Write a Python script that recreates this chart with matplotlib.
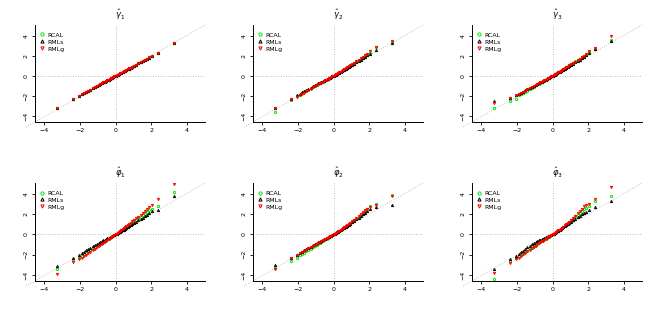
import matplotlib
matplotlib.use('Agg')
import matplotlib.pyplot as plt
from matplotlib.lines import Line2D

# theoretical normal quantiles (x positions)
theo_q = [-3.29, -2.35, -2.06, -1.89, -1.76, -1.65, -1.52, -1.41, -1.28,
          -1.15, -1.04, -0.94, -0.84, -0.76, -0.68, -0.60, -0.53, -0.46, -0.39,
          -0.32, -0.25, -0.19, -0.13, -0.06, 0.00, 0.06, 0.13, 0.19, 0.25, 0.32,
          0.39, 0.46, 0.53, 0.60, 0.68, 0.76, 0.84, 0.94, 1.04, 1.15,
          1.28, 1.41, 1.52, 1.65, 1.76, 1.89, 2.06, 2.35, 3.29]

titles = [r'$\hat{\gamma}_1$', r'$\hat{\gamma}_2$', r'$\hat{\gamma}_3$',
          r'$\hat{\varphi}_1$', r'$\hat{\varphi}_2$', r'$\hat{\varphi}_3$']
methods = ['RCAL', 'RMLs', 'RMLg']

# sample quantiles, one list per panel and method
p1_rcal = [-3.20, -2.28, -2.00, -1.84, -1.71, -1.60, -1.48, -1.37, -1.24, -1.12, -1.01, -0.91, -0.81, -0.74, -0.66, -0.58, -0.51, -0.45, -0.38, -0.31, -0.24, -0.18, -0.13, -0.06, 0.00, 0.06, 0.13, 0.18, 0.24, 0.31, 0.38, 0.45, 0.51, 0.58, 0.66, 0.74, 0.81, 0.91, 1.01, 1.12, 1.24, 1.37, 1.48, 1.60, 1.71, 1.84, 2.00, 2.25, 3.23]
p1_rmls = [-3.19, -2.29, -2.01, -1.83, -1.71, -1.60, -1.47, -1.37, -1.24, -1.11, -1.01, -0.91, -0.82, -0.73, -0.66, -0.58, -0.52, -0.45, -0.38, -0.31, -0.25, -0.18, -0.12, -0.06, 0.00, 0.06, 0.12, 0.18, 0.25, 0.31, 0.38, 0.45, 0.52, 0.58, 0.66, 0.73, 0.82, 0.91, 1.01, 1.11, 1.24, 1.37, 1.47, 1.60, 1.71, 1.83, 2.01, 2.26, 3.24]
p1_rmlg = [-3.19, -2.28, -2.00, -1.84, -1.71, -1.60, -1.48, -1.37, -1.24, -1.12, -1.01, -0.91, -0.81, -0.74, -0.66, -0.58, -0.51, -0.45, -0.38, -0.31, -0.24, -0.18, -0.13, -0.06, 0.00, 0.06, 0.13, 0.18, 0.24, 0.31, 0.38, 0.45, 0.51, 0.58, 0.66, 0.74, 0.81, 0.91, 1.01, 1.12, 1.24, 1.37, 1.48, 1.60, 1.71, 1.84, 2.00, 2.25, 3.23]

p2_rcal = [-3.60, -2.36, -2.05, -1.87, -1.73, -1.62, -1.49, -1.38, -1.25, -1.11, -1.00, -0.90, -0.81, -0.73, -0.65, -0.58, -0.51, -0.44, -0.37, -0.31, -0.24, -0.18, -0.12, -0.06, 0.00, 0.06, 0.14, 0.21, 0.27, 0.35, 0.42, 0.50, 0.57, 0.65, 0.73, 0.82, 0.91, 1.02, 1.13, 1.25, 1.40, 1.54, 1.66, 1.80, 1.93, 2.08, 2.30, 2.88, 3.35]
p2_rmls = [-3.20, -2.30, -1.95, -1.78, -1.65, -1.55, -1.42, -1.31, -1.18, -1.05, -0.94, -0.85, -0.76, -0.68, -0.61, -0.54, -0.48, -0.41, -0.35, -0.29, -0.23, -0.17, -0.12, -0.05, 0.00, 0.06, 0.13, 0.20, 0.26, 0.33, 0.41, 0.48, 0.56, 0.63, 0.72, 0.80, 0.89, 1.00, 1.11, 1.23, 1.37, 1.51, 1.63, 1.77, 1.89, 2.03, 2.20, 2.57, 3.23]
p2_rmlg = [-3.17, -2.33, -2.10, -1.90, -1.77, -1.66, -1.52, -1.41, -1.28, -1.14, -1.03, -0.93, -0.83, -0.75, -0.67, -0.59, -0.52, -0.45, -0.38, -0.31, -0.24, -0.18, -0.12, -0.06, 0.00, 0.07, 0.14, 0.21, 0.28, 0.35, 0.43, 0.51, 0.59, 0.67, 0.76, 0.85, 0.95, 1.07, 1.19, 1.32, 1.48, 1.63, 1.76, 1.92, 2.06, 2.22, 2.45, 2.90, 3.50]

p3_rcal = [-3.20, -2.53, -2.33, -1.93, -1.80, -1.70, -1.57, -1.46, -1.33, -1.18, -1.07, -0.96, -0.86, -0.78, -0.70, -0.62, -0.54, -0.47, -0.40, -0.33, -0.26, -0.19, -0.13, -0.06, 0.00, 0.07, 0.14, 0.21, 0.28, 0.36, 0.44, 0.52, 0.60, 0.68, 0.77, 0.86, 0.95, 1.06, 1.17, 1.30, 1.45, 1.60, 1.72, 1.86, 1.98, 2.12, 2.35, 2.72, 3.60]
p3_rmls = [-2.55, -2.20, -1.95, -1.80, -1.68, -1.58, -1.45, -1.34, -1.22, -1.09, -0.99, -0.89, -0.80, -0.72, -0.65, -0.57, -0.50, -0.44, -0.37, -0.30, -0.24, -0.18, -0.12, -0.06, 0.00, 0.06, 0.13, 0.20, 0.26, 0.34, 0.41, 0.48, 0.56, 0.63, 0.71, 0.80, 0.88, 0.99, 1.09, 1.21, 1.35, 1.50, 1.62, 1.77, 1.90, 2.05, 2.25, 2.67, 3.47]
p3_rmlg = [-2.70, -2.17, -1.93, -1.80, -1.68, -1.58, -1.46, -1.36, -1.24, -1.12, -1.01, -0.91, -0.82, -0.74, -0.66, -0.58, -0.51, -0.45, -0.38, -0.31, -0.24, -0.18, -0.13, -0.06, 0.00, 0.07, 0.14, 0.21, 0.28, 0.35, 0.43, 0.51, 0.58, 0.66, 0.75, 0.84, 0.93, 1.04, 1.15, 1.27, 1.42, 1.57, 1.70, 1.85, 1.98, 2.15, 2.45, 2.80, 3.97]

p4_rcal = [-3.40, -2.55, -2.35, -2.12, -1.97, -1.85, -1.70, -1.57, -1.42, -1.26, -1.13, -1.02, -0.91, -0.82, -0.73, -0.65, -0.57, -0.49, -0.42, -0.34, -0.27, -0.20, -0.14, -0.06, 0.00, 0.07, 0.16, 0.23, 0.30, 0.39, 0.47, 0.56, 0.65, 0.73, 0.83, 0.93, 1.03, 1.15, 1.28, 1.42, 1.58, 1.73, 1.87, 2.03, 2.20, 2.40, 2.50, 2.77, 4.20]
p4_rmls = [-3.13, -2.33, -2.00, -1.85, -1.70, -1.57, -1.42, -1.30, -1.16, -1.02, -0.91, -0.81, -0.72, -0.65, -0.58, -0.51, -0.45, -0.39, -0.33, -0.27, -0.21, -0.16, -0.11, -0.05, 0.00, 0.06, 0.13, 0.19, 0.26, 0.33, 0.40, 0.47, 0.55, 0.62, 0.71, 0.80, 0.89, 1.00, 1.12, 1.25, 1.38, 1.52, 1.64, 1.80, 1.95, 2.15, 2.27, 2.43, 3.80]
p4_rmlg = [-3.90, -2.73, -2.47, -2.35, -2.18, -2.05, -1.88, -1.74, -1.57, -1.40, -1.26, -1.13, -1.01, -0.91, -0.81, -0.72, -0.63, -0.55, -0.46, -0.38, -0.30, -0.22, -0.15, -0.07, 0.00, 0.08, 0.17, 0.25, 0.33, 0.42, 0.51, 0.61, 0.70, 0.80, 0.91, 1.02, 1.14, 1.28, 1.43, 1.58, 1.75, 1.95, 2.13, 2.32, 2.50, 2.70, 2.90, 3.47, 4.97]

p5_rcal = [-3.27, -2.63, -2.33, -2.07, -1.92, -1.80, -1.66, -1.54, -1.40, -1.25, -1.12, -1.01, -0.90, -0.81, -0.73, -0.64, -0.57, -0.49, -0.42, -0.34, -0.27, -0.20, -0.14, -0.06, 0.00, 0.07, 0.14, 0.21, 0.28, 0.36, 0.44, 0.52, 0.60, 0.69, 0.78, 0.87, 0.98, 1.10, 1.23, 1.38, 1.56, 1.76, 1.92, 2.12, 2.30, 2.48, 2.80, 3.03, 3.87]
p5_rmls = [-3.07, -2.33, -2.05, -1.82, -1.69, -1.58, -1.45, -1.34, -1.22, -1.09, -0.98, -0.88, -0.79, -0.71, -0.64, -0.57, -0.50, -0.43, -0.37, -0.30, -0.24, -0.18, -0.12, -0.06, 0.00, 0.06, 0.14, 0.20, 0.27, 0.35, 0.43, 0.51, 0.59, 0.67, 0.76, 0.85, 0.95, 1.07, 1.19, 1.33, 1.48, 1.65, 1.80, 1.98, 2.15, 2.30, 2.53, 2.70, 2.93]
p5_rmlg = [-3.37, -2.33, -2.07, -1.87, -1.72, -1.62, -1.50, -1.39, -1.27, -1.14, -1.03, -0.93, -0.83, -0.75, -0.67, -0.59, -0.52, -0.46, -0.39, -0.32, -0.25, -0.19, -0.13, -0.06, 0.00, 0.07, 0.15, 0.22, 0.29, 0.37, 0.45, 0.54, 0.62, 0.71, 0.80, 0.90, 1.01, 1.14, 1.28, 1.43, 1.62, 1.82, 1.98, 2.20, 2.37, 2.52, 2.72, 2.93, 3.80]

p6_rcal = [-4.37, -2.63, -2.35, -2.18, -2.03, -1.90, -1.75, -1.62, -1.47, -1.30, -1.16, -1.04, -0.93, -0.83, -0.75, -0.66, -0.58, -0.50, -0.43, -0.35, -0.27, -0.21, -0.14, -0.07, 0.00, 0.07, 0.15, 0.22, 0.30, 0.38, 0.46, 0.55, 0.64, 0.73, 0.83, 0.94, 1.05, 1.19, 1.33, 1.50, 1.70, 1.90, 2.10, 2.30, 2.47, 2.62, 2.80, 3.27, 3.80]
p6_rmls = [-3.40, -2.40, -2.13, -1.95, -1.75, -1.60, -1.42, -1.28, -1.13, -0.98, -0.87, -0.77, -0.68, -0.60, -0.53, -0.46, -0.41, -0.35, -0.30, -0.24, -0.19, -0.14, -0.10, -0.05, 0.00, 0.07, 0.15, 0.22, 0.29, 0.37, 0.45, 0.53, 0.62, 0.70, 0.80, 0.90, 1.00, 1.12, 1.25, 1.39, 1.55, 1.70, 1.83, 1.97, 2.10, 2.25, 2.43, 2.70, 3.27]
p6_rmlg = [-3.80, -2.80, -2.47, -2.30, -2.12, -1.98, -1.82, -1.68, -1.53, -1.37, -1.23, -1.10, -0.98, -0.88, -0.79, -0.70, -0.62, -0.54, -0.46, -0.38, -0.30, -0.22, -0.15, -0.07, 0.00, 0.07, 0.16, 0.23, 0.31, 0.39, 0.48, 0.57, 0.67, 0.77, 0.88, 0.99, 1.12, 1.27, 1.43, 1.62, 1.85, 2.08, 2.30, 2.55, 2.77, 2.87, 2.97, 3.53, 4.63]

panels = [(p1_rcal, p1_rmls, p1_rmlg), (p2_rcal, p2_rmls, p2_rmlg),
          (p3_rcal, p3_rmls, p3_rmlg), (p4_rcal, p4_rmls, p4_rmlg),
          (p5_rcal, p5_rmls, p5_rmlg), (p6_rcal, p6_rmls, p6_rmlg)]

colors = ['#00ee00', 'black', '#ff0000']
markers = ['o', '^', 'v']

W, H = 655, 317
fig = plt.figure(figsize=(W / 100, H / 100), dpi=100)
lefts = [35, 253, 472]
rows = [(25, 122), (183, 281)]

for k, series in enumerate(panels):
    r, c = divmod(k, 3)
    top, bot = rows[r]
    ax = fig.add_axes([lefts[c] / W, 1 - bot / H, 170 / W, (bot - top) / H])
    ax.set_xlim(-4.5, 5.0)
    ax.set_ylim(-4.6, 5.07)

    # reference lines
    ax.plot([-5, 5], [-5.1, 5.07], ls=(0, (1, 2)), color='#aaaaaa', lw=0.6, clip_on=False)
    ax.axhline(0, ls=(0, (1, 2)), color='#aaaaaa', lw=0.6)
    ax.axvline(0, ls=(0, (1, 2)), color='#aaaaaa', lw=0.6)

    for y, col, m in zip(series, colors, markers):
        ax.plot(theo_q, y, ls='none', marker=m, ms=1.6, mfc='none', mec=col, mew=0.7)

    for s in ['top', 'right']:
        ax.spines[s].set_visible(False)
    for s in ['left', 'bottom']:
        ax.spines[s].set_linewidth(0.7)
    ax.set_xticks([-4, -2, 0, 2, 4])
    ax.set_yticks([-4, -2, 0, 2, 4])
    ax.tick_params(length=2.5, width=0.6, labelsize=4.5, pad=2)
    for lab in ax.get_yticklabels():
        lab.set_rotation(90)
        lab.set_va('center')
    ax.set_title(titles[k], fontsize=6, pad=5)

    handles = [Line2D([], [], ls='none', marker=m, ms=2.3, mfc='none', mec=col, mew=0.7)
               for col, m in zip(colors, markers)]
    ax.legend(handles, methods, loc='upper left', bbox_to_anchor=(0.0, 0.97),
              frameon=False, fontsize=4.5, handlelength=0.8, handletextpad=0.5,
              labelspacing=0.25, borderaxespad=0.3)

fig.savefig('out.png', dpi=100)
